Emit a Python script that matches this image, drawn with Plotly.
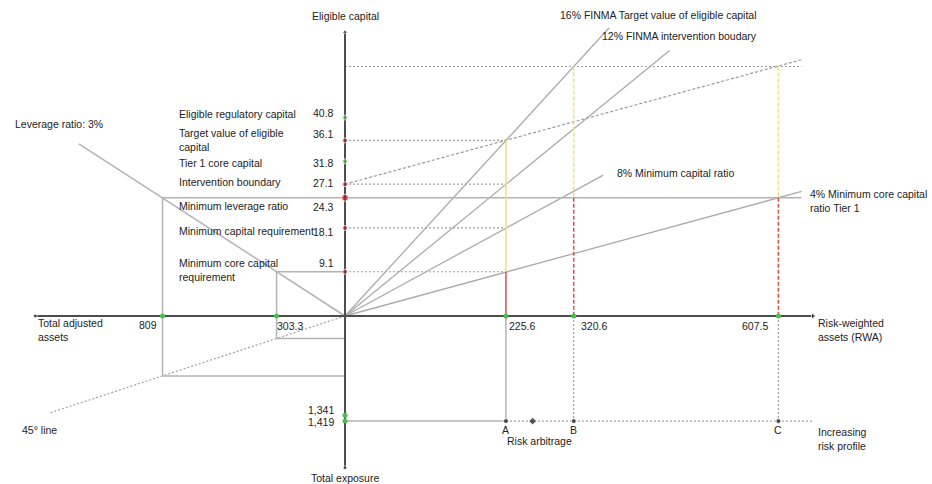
import plotly.graph_objects as go

# ---------------- data ----------------
rwa_labels = ["A", "B", "C"]
rwa_values = [225.6, 320.6, 607.5]            # risk-weighted assets
rwa_text = ["225.6", "320.6", "607.5"]

capital_names = [
    "Eligible regulatory capital",
    "Target value of eligible<br>capital",
    "Tier 1 core capital",
    "Intervention boundary",
    "Minimum leverage ratio",
    "Minimum capital requirement",
    "Minimum core capital<br>requirement",
]
capital_values = [40.8, 36.1, 31.8, 27.1, 24.3, 18.1, 9.1]
capital_text = ["40.8", "36.1", "31.8", "27.1", "24.3", "18.1", "9.1"]
capital_is_actual = [True, False, True, False, False, False, False]

ratio_names = [
    "16% FINMA Target value of eligible capital",
    "12% FINMA intervention boudary",
    "8% Minimum capital ratio",
    "4% Minimum core capital<br>ratio Tier 1",
]
ratio_values = [0.16, 0.12, 0.08, 0.04]
ratio_line_end = [370, 455, 362, 640]         # RWA where each ratio line stops

leverage_ratio = 0.03
leverage_line_end = 1180                      # total adjusted assets where line stops
adjusted_assets = [809, 303.3]
adjusted_assets_text = ["809", "303.3"]
exposure_values = [1341, 1419]
exposure_text = ["1,341", "1,419"]
target_line_intercept = 27.1                  # dashed line parallel to the 4% line
line_45_end = 1310

# ---------------- scales (four quadrants share one plot) ----------------
LX = 0.3162      # total adjusted assets -> x units (left quadrant)
BY = 0.01523     # total exposure -> y units (bottom quadrant)
X_END = 656      # RWA where horizontal axis stops (right)
XL_END = 1374    # assets where horizontal axis stops (left)
Y_TOP = 58.4
YB_END = 2050


def XL(a):
    return -a * LX


def YB(e):
    return -e * BY


GREY = "#b3b3b3"
DOT = "#a0a0a0"
AXIS = "#4d4d4d"
GREEN = "#4cc04c"
RED = "#c0202a"
YELLOW = "#f4e06a"
LRED = "#e44a4a"
TXT = "#222222"
FONT = "Liberation Sans, Arial, sans-serif"
FS = 10.5

fig = go.Figure()


def seg(xs, ys, color=GREY, width=1.5, dash="solid"):
    fig.add_trace(go.Scatter(x=xs, y=ys, mode="lines",
                             line=dict(color=color, width=width, dash=dash),
                             hoverinfo="skip", showlegend=False))


A, B, C = rwa_values
lev_level = capital_values[4]
top_level = ratio_values[0] * B

# leverage ratio line and 45 degree line
seg([0, XL(leverage_line_end)], [0, leverage_ratio * leverage_line_end], GREY, 1.5)
seg([0, XL(line_45_end)], [0, YB(line_45_end)], DOT, 1.2, "2px,2px")

# rectangles in left quadrants
for a, cap in zip(adjusted_assets, [capital_values[4], capital_values[6]]):
    seg([XL(a), XL(a)], [cap, YB(a)], GREY, 1.5)
    seg([XL(a), 0], [YB(a), YB(a)], GREY, 1.5)
seg([XL(adjusted_assets[1]), 0], [capital_values[6], capital_values[6]], GREY, 1.5)

# ratio lines
for r, e in zip(ratio_values, ratio_line_end):
    seg([0, e], [0, r * e], "#ababab", 1.3)

# dashed target line
seg([0, 640], [target_line_intercept, target_line_intercept + 0.04 * 640], "#9a9a9a", 1.2, "3px,2px")

# horizontal dotted lines
seg([0, 640], [top_level, top_level], DOT, 1.2, "2px,2px")
for i in [1, 3, 5, 6]:
    seg([0, A], [capital_values[i], capital_values[i]], DOT, 1.2, "2px,2px")
seg([XL(adjusted_assets[0]), 640], [lev_level, lev_level], GREY, 1.5)

# risk profile line
seg([0, A], [YB(exposure_values[1])] * 2, GREY, 1.5)
seg([A, X_END], [YB(exposure_values[1])] * 2, DOT, 1.2, "2px,2px")

# verticals at A, B, C
seg([A, A], [capital_values[1], capital_values[6]], YELLOW, 1.5)
seg([A, A], [capital_values[6], 0], LRED, 1.5)
seg([A, A], [0, YB(exposure_values[1])], GREY, 1.5)
for v in [B, C]:
    seg([v, v], [top_level, lev_level], YELLOW, 1.5, "4px,2px")
    seg([v, v], [lev_level, 0], LRED, 1.5, "4px,2px")
    seg([v, v], [0, YB(exposure_values[1])], DOT, 1.2, "2px,2px")

# axes
seg([XL(XL_END), X_END], [0, 0], AXIS, 2)
seg([0, 0], [Y_TOP, YB(YB_END)], AXIS, 2)
fig.add_trace(go.Scatter(
    x=[X_END, XL(XL_END), 0, 0], y=[0, 0, Y_TOP, YB(YB_END)], mode="markers",
    marker=dict(symbol=["triangle-right", "circle", "triangle-up", "circle"],
                size=[6, 4, 5, 4], color="#222"),
    hoverinfo="skip", showlegend=False))

# markers on axes
fig.add_trace(go.Scatter(
    x=[0] * len(capital_values), y=capital_values, mode="markers",
    marker=dict(size=[5, 5, 5, 5, 7, 5, 5],
                color=[GREEN if a else RED for a in capital_is_actual]),
    hoverinfo="skip", showlegend=False))
fig.add_trace(go.Scatter(
    x=rwa_values + [XL(a) for a in adjusted_assets] + [0, 0],
    y=[0] * 5 + [YB(e) for e in exposure_values], mode="markers",
    marker=dict(size=5, color=GREEN), hoverinfo="skip", showlegend=False))
fig.add_trace(go.Scatter(
    x=rwa_values + [263], y=[YB(exposure_values[1])] * 4, mode="markers",
    marker=dict(size=[5, 5, 5, 6], color="#111",
                symbol=["circle", "circle", "circle", "diamond"]),
    hoverinfo="skip", showlegend=False))

# ---------------- text ----------------
ann = []


def txt(x, y, t, xanchor="left", xshift=0, yshift=0, yanchor="middle", align="left"):
    ann.append(dict(x=x, y=y, xref="x", yref="y", text=t, showarrow=False,
                    xanchor=xanchor, yanchor=yanchor, xshift=xshift, yshift=yshift,
                    align=align, font=dict(family=FONT, size=FS, color=TXT)))


name_shift = [4, 0, -2, 2, -8, -3, 2]
value_shift = [5, 6, -2, 1, -9, -4, 9]
for n, v, t, ns, vs in zip(capital_names, capital_values, capital_text, name_shift, value_shift):
    txt(0, v, n, "left", xshift=-168, yshift=ns)
    txt(0, v, t, "right", xshift=-9, yshift=vs)

txt(A, 0, rwa_text[0], "left", xshift=1, yshift=-10)
txt(B, 0, rwa_text[1], "left", xshift=5, yshift=-10)
txt(C, 0, rwa_text[2], "right", xshift=-8, yshift=-10)
txt(XL(adjusted_assets[0]), 0, adjusted_assets_text[0], "right", xshift=-4, yshift=-9)
txt(XL(adjusted_assets[1]), 0, adjusted_assets_text[1], "left", xshift=-2, yshift=-10)
txt(0, YB(exposure_values[0]), exposure_text[0], "right", xshift=-9, yshift=5)
txt(0, YB(exposure_values[1]), exposure_text[1], "right", xshift=-9, yshift=-1)

for lab, v in zip(rwa_labels, rwa_values):
    txt(v, YB(exposure_values[1]), lab, "center", yshift=-9)
txt(263, YB(exposure_values[1]), "Risk arbitrage", "center", xshift=7, yshift=-20)
txt(X_END, YB(exposure_values[1]), "Increasing<br>risk profile", "left", xshift=3, yshift=-18)

ratio_dx = [-51, -70, 12, 6]
ratio_dy = [13, 14, 2, -10]
for n, r, e, dx, dy in zip(ratio_names, ratio_values, ratio_line_end, ratio_dx, ratio_dy):
    txt(e, r * e, n, "left", xshift=dx, yshift=dy)

txt(0, Y_TOP, "Eligible capital", "center", yshift=16)
txt(0, YB(YB_END), "Total exposure", "center", yshift=-10)
txt(X_END, 0, "Risk-weighted<br>assets (RWA)", "left", xshift=3, yshift=-14)
txt(XL(XL_END), 0, "Total adjusted<br>assets", "left", xshift=1, yshift=-14)
txt(XL(leverage_line_end), leverage_ratio * leverage_line_end, "Leverage ratio: 3%",
    "left", xshift=-66, yshift=20)
txt(XL(line_45_end), YB(line_45_end), "45° line", "left", xshift=-29, yshift=-17)

fig.update_layout(
    width=932, height=484, autosize=False,
    margin=dict(l=0, r=0, t=0, b=0),
    paper_bgcolor="white", plot_bgcolor="white",
    xaxis=dict(visible=False, range=[-345 / 0.7134, (932 - 345) / 0.7134], fixedrange=True),
    yaxis=dict(visible=False, range=[-(484 - 316) / 4.864, 316 / 4.864], fixedrange=True),
    annotations=ann,
    showlegend=False,
)
fig.write_html("out.html", config={"displayModeBar": False},
               post_script="document.body.style.margin='0';document.body.style.overflow='hidden';")
